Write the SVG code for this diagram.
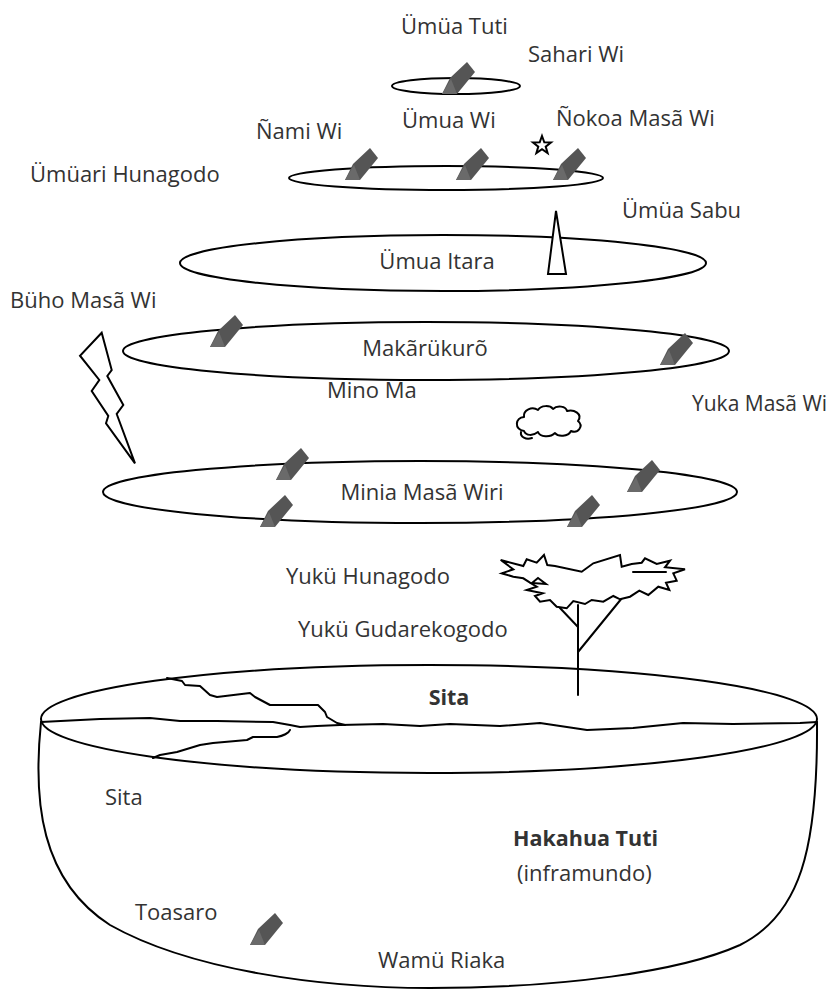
<svg xmlns="http://www.w3.org/2000/svg" width="835" height="998" viewBox="0 0 835 998">
  <style>
    .lbl { font-family: "Open Sans", "Noto Sans", sans-serif; font-size: 22px; fill: #333; }
    .bold { font-weight: bold; font-size: 21.5px; }
    .mid { text-anchor: middle; }
    .ring { fill: none; stroke: #000; stroke-width: 2; }
    .line { fill: none; stroke: #000; stroke-width: 2; stroke-linejoin: round; stroke-linecap: round; }
    .shape { fill: #fff; stroke: #000; stroke-width: 2; stroke-linejoin: miter; }
  </style>
  <defs>
    <!-- dark prism figure used for the beings on each level -->
    <g id="prism">
      <polygon points="0,32 8,16 25,0 33,10 15,32" fill="#555"/>
      <polygon points="0,32 9,17 15,32" fill="#6a6a6a"/>
    </g>
  </defs>

  <!-- upper worlds -->
  <g id="level-umua-tuti">
    <ellipse class="ring" cx="456" cy="86" rx="64" ry="8"/>
    <use href="#prism" x="442" y="62"/>
  </g>
  <g id="level-umua-wi">
    <ellipse class="ring" cx="446" cy="178" rx="157" ry="12"/>
    <use href="#prism" x="345" y="148"/>
    <use href="#prism" x="456" y="148"/>
    <use href="#prism" x="553" y="148"/>
  </g>
  <g id="star">
    <polygon class="shape" stroke-width="1.6" points="542,136 544.3,142.3 551,142.5 545.7,146.6 547.6,153 542,149.2 536.4,153 538.3,146.6 533,142.5 539.7,142.3"/>
  </g>
  <g id="level-umua-itara">
    <ellipse class="ring" cx="443" cy="263" rx="263" ry="28"/>
  </g>
  <g id="cone">
    <polygon class="shape" points="556,211 548,274 566,274"/>
  </g>
  <g id="level-makarukuro">
    <ellipse class="ring" cx="426" cy="351" rx="303" ry="29"/>
    <use href="#prism" x="210" y="315"/>
    <use href="#prism" x="660" y="333"/>
  </g>
  <g id="lightning">
    <polygon class="shape" points="101.7,332.7 80,355.7 99.3,380 91.7,391 108.3,416 106,423.3 135,463.3 116.7,414 123.3,405 107.3,376 111.7,370"/>
  </g>
  <g id="cloud">
    <path class="line" d="M524,431 C514,429 515,418 524,417 C523,410 532,406 538,410 C541,405 550,405 553,409 C557,405 566,406 567,411 C574,409 583,414 578,421 C584,426 578,434 571,431 C568,437 558,437 555,433 C550,438 540,437 538,432 C533,436 526,436 524,431 Z"/>
    <path class="line" d="M521,432 C520,437 526,440 532,438"/>
  </g>
  <g id="level-minia-masa-wiri">
    <ellipse class="ring" cx="420" cy="492" rx="317" ry="31"/>
    <use href="#prism" x="276" y="448"/>
    <use href="#prism" x="260" y="495"/>
    <use href="#prism" x="627" y="460"/>
    <use href="#prism" x="567" y="495"/>
  </g>

  <!-- earth disc and underworld bowl -->
  <g id="earth">
    <path class="line" d="M41,722 C33,800 40,880 110,925 C190,970 320,988 430,988 C560,988 680,972 740,945 C800,915 818,850 817,722"/>
    <ellipse class="ring" cx="429" cy="719" rx="388" ry="54"/>
    <path class="line" stroke-width="1.8" d="M41,722 L100,719 L150,718 L180,721 L217,721 L273,722 L290,725 L300,727 L317,726 L340,725 L383,724 L420,726 L450,724 L500,726 L540,723 L587,730 L633,728 L683,723 L733,724 L800,723 L817,722"/>
    <path class="line" stroke-width="1.8" d="M167,678 L182,681 L185,685 L200,686 L210,695 L217,697 L250,693 L255,697 L270,705 L318,705 L325,712 L327,717 L337,723 L345,725"/>
    <path class="line" stroke-width="1.8" d="M290,730 C289,733 283,736 277,737 L253,737 L247,740 L213,743 L200,745 L177,752 L160,755 L153,758"/>
  </g>
  <g id="tree">
    <line class="line" x1="578" y1="605" x2="578" y2="695"/>
    <line class="line" x1="578" y1="652" x2="622" y2="598"/>
    <line class="line" x1="578" y1="627" x2="560" y2="608"/>
    <polygon class="shape" points="500.7,560 523.3,566 526.7,559.3 536.7,562.7 544,555 547.3,565 555,566 581.7,571.7 593.3,563.3 620,555 621.7,566.7 631.7,564 641.7,562.7 645,558.3 656.7,564 670,560.7 665,567.3 685,569.3 673.3,573.3 676.7,580.7 666,582.7 669.3,590 658.3,586.7 648.3,595 639.3,590.7 630,596.7 620,599.3 613.3,596 603.3,601.7 591.7,600 585,604 573.3,601 566.7,608.3 556.7,606.7 550,600 540,601.7 535,596 542.7,593.3 526.7,590 536.7,586.7 530,582.7 523.3,578.3 513.3,576.7 501.7,573.3 513.3,569.3"/>
    <polygon class="shape" stroke-width="1.5" points="532,583 538,578 546,584"/>
    <line class="line" stroke-width="1.5" x1="633" y1="572" x2="666" y2="572"/>
  </g>
  <g id="toasaro">
    <use href="#prism" x="250" y="913"/>
  </g>

  <!-- labels -->
  <g id="labels">
    <text class="lbl" x="401" y="34">Ümüa Tuti</text>
    <text class="lbl" x="528" y="62">Sahari Wi</text>
    <text class="lbl" x="256" y="139">Ñami Wi</text>
    <text class="lbl" x="402" y="128">Ümua Wi</text>
    <text class="lbl" x="556" y="126">Ñokoa Masã Wi</text>
    <text class="lbl" x="30" y="182">Ümüari Hunagodo</text>
    <text class="lbl" x="622" y="218">Ümüa Sabu</text>
    <text class="lbl mid" x="437" y="269">Ümua Itara</text>
    <text class="lbl" x="10" y="308">Büho Masã Wi</text>
    <text class="lbl mid" x="425" y="356">Makãrükurõ</text>
    <text class="lbl" x="327" y="398">Mino Ma</text>
    <text class="lbl" x="692" y="411" style="font-size:21px">Yuka Masã Wi</text>
    <text class="lbl mid" x="422" y="500">Minia Masã Wiri</text>
    <text class="lbl" x="286" y="584">Yukü Hunagodo</text>
    <text class="lbl" x="298" y="637">Yukü Gudarekogodo</text>
    <text class="lbl bold mid" x="449" y="705">Sita</text>
    <text class="lbl" x="105" y="805">Sita</text>
    <text class="lbl bold" x="513" y="846">Hakahua Tuti</text>
    <text class="lbl" x="517" y="881">(inframundo)</text>
    <text class="lbl" x="135" y="920">Toasaro</text>
    <text class="lbl" x="378" y="968">Wamü Riaka</text>
  </g>
</svg>
